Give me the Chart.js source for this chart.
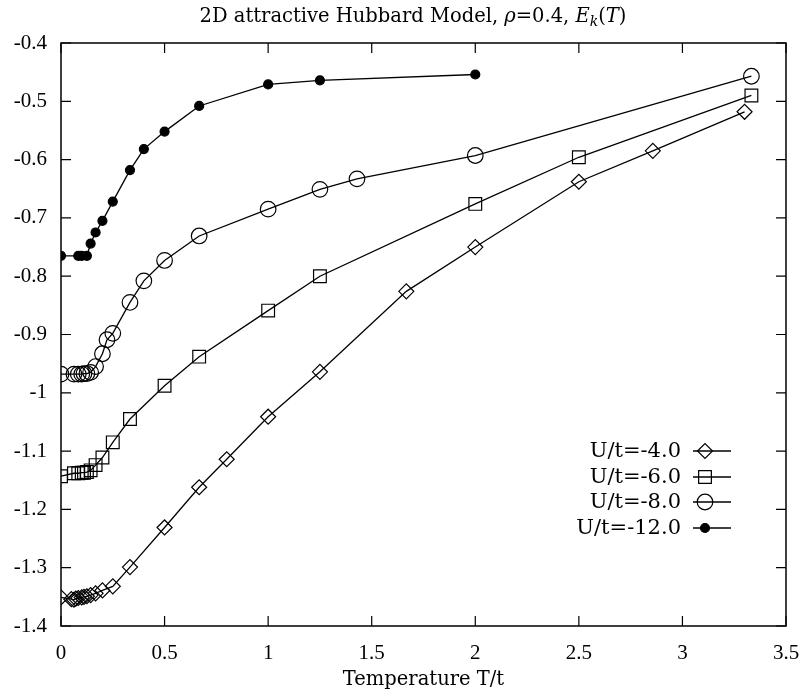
<!DOCTYPE html>
<html>
<head>
<meta charset="utf-8">
<script src="https://cdn.jsdelivr.net/npm/chart.js@4/dist/chart.umd.min.js"></script>
<style>
  body { margin: 0; background: #fff; }
  #wrap { width: 801px; height: 692px; }
</style>
</head>
<body>
<div id="wrap"><canvas id="hubbardChart" width="801" height="692"></canvas></div>
<script>
// temperatures T/t and kinetic energy E_k for each coupling
var tempU4 = [0, 0.05, 0.0625, 0.0714, 0.0833, 0.1, 0.111, 0.125, 0.143, 0.167, 0.2, 0.25, 0.333, 0.5, 0.667, 0.8, 1.0, 1.25, 1.667, 2.0, 2.5, 2.857, 3.3];
var ekU4 = [-1.351, -1.354, -1.355, -1.353, -1.352, -1.351, -1.350, -1.349, -1.347, -1.344, -1.339, -1.332, -1.299, -1.231, -1.162, -1.114, -1.041, -0.964, -0.826, -0.750, -0.638, -0.585, -0.518];

var tempU6 = [0, 0.0625, 0.0833, 0.1, 0.111, 0.125, 0.143, 0.167, 0.2, 0.25, 0.333, 0.5, 0.667, 1.0, 1.25, 2.0, 2.5, 3.333];
var ekU6 = [-1.143, -1.138, -1.138, -1.137, -1.137, -1.136, -1.133, -1.124, -1.111, -1.085, -1.045, -0.988, -0.938, -0.859, -0.800, -0.676, -0.596, -0.490];

var tempU8 = [0, 0.0625, 0.0833, 0.1, 0.111, 0.125, 0.143, 0.167, 0.2, 0.222, 0.25, 0.333, 0.4, 0.5, 0.667, 1.0, 1.25, 1.429, 2.0, 3.333];
var ekU8 = [-0.968, -0.968, -0.968, -0.968, -0.967, -0.967, -0.965, -0.955, -0.933, -0.909, -0.898, -0.845, -0.808, -0.773, -0.731, -0.685, -0.651, -0.633, -0.593, -0.457];

var tempU12 = [0, 0.0833, 0.1, 0.125, 0.143, 0.167, 0.2, 0.25, 0.333, 0.4, 0.5, 0.667, 1.0, 1.25, 2.0];
var ekU12 = [-0.765, -0.765, -0.765, -0.765, -0.744, -0.725, -0.705, -0.672, -0.618, -0.582, -0.552, -0.508, -0.471, -0.464, -0.454];

var seriesLabels = ['U/t=-4.0', 'U/t=-6.0', 'U/t=-8.0', 'U/t=-12.0'];
var xTicks = [0, 0.5, 1, 1.5, 2, 2.5, 3, 3.5];
var yTicks = [-1.4, -1.3, -1.2, -1.1, -1, -0.9, -0.8, -0.7, -0.6, -0.5, -0.4];

var toPoints = function (xs, ys) {
    var pts = [];
    for (var i in xs) {
        pts.push({ x: xs[i], y: ys[i] });
    }
    return pts;
};

var makeSet = function (label, xs, ys, style, radius, filled) {
    return {
        label: label,
        data: toPoints(xs, ys),
        showLine: true,
        borderColor: '#000',
        borderWidth: 1.3,
        pointStyle: style,
        pointRadius: radius,
        pointBorderWidth: 1.2,
        pointBorderColor: '#000',
        pointBackgroundColor: filled ? '#000' : 'rgba(0,0,0,0)',
        tension: 0
    };
};

var serif = 'DejaVu Serif';
var tickFont = 'Liberation Serif';

var framePlugin = {
    id: 'frame',
    afterDraw: function (chart) {
        var ctx = chart.ctx;
        var a = chart.chartArea;
        var xs = chart.scales.x, ys = chart.scales.y;
        ctx.save();
        ctx.strokeStyle = '#000';
        ctx.lineWidth = 1.5;
        ctx.strokeRect(a.left, a.top, a.right - a.left, a.bottom - a.top);
        // inward tick marks on all four sides
        ctx.lineWidth = 1.2;
        ctx.beginPath();
        xTicks.forEach(function (v) {
            var px = xs.getPixelForValue(v);
            ctx.moveTo(px, a.bottom); ctx.lineTo(px, a.bottom - 10);
            ctx.moveTo(px, a.top); ctx.lineTo(px, a.top + 10);
        });
        yTicks.forEach(function (v) {
            var py = ys.getPixelForValue(v);
            ctx.moveTo(a.left, py); ctx.lineTo(a.left + 10, py);
            ctx.moveTo(a.right, py); ctx.lineTo(a.right - 10, py);
        });
        ctx.stroke();

        // title with italic math parts
        var parts = [
            { t: '2D attractive Hubbard Model, ', f: '19.5px "' + serif + '"', dy: 0 },
            { t: 'ρ', f: 'italic 19.5px "' + serif + '"', dy: 0 },
            { t: '=0.4, ', f: '19.5px "' + serif + '"', dy: 0 },
            { t: 'E', f: 'italic 19.5px "' + serif + '"', dy: 0 },
            { t: 'k', f: 'italic 14px "' + serif + '"', dy: 4 },
            { t: '(', f: '19.5px "' + serif + '"', dy: 0 },
            { t: 'T', f: 'italic 19.5px "' + serif + '"', dy: 0 },
            { t: ')', f: '19.5px "' + serif + '"', dy: 0 }
        ];
        var total = 0;
        parts.forEach(function (p) { ctx.font = p.f; p.w = ctx.measureText(p.t).width; total += p.w; });
        var tx = 413 - total / 2;
        ctx.fillStyle = '#000';
        ctx.textBaseline = 'alphabetic';
        ctx.textAlign = 'left';
        parts.forEach(function (p) {
            ctx.font = p.f;
            ctx.fillText(p.t, tx, 22 + p.dy);
            tx += p.w;
        });

        // legend: text, then line sample with marker
        var rowY = [451, 477, 502, 528];
        ctx.font = '21px "' + serif + '"';
        ctx.textAlign = 'right';
        ctx.textBaseline = 'middle';
        chart.data.datasets.forEach(function (ds, i) {
            var y = rowY[i];
            ctx.fillStyle = '#000';
            ctx.fillText(ds.label, 681, y + 1);
            ctx.lineWidth = 1.3;
            ctx.beginPath();
            ctx.moveTo(693, y); ctx.lineTo(731, y);
            ctx.stroke();
            ctx.fillStyle = ds.pointBackgroundColor;
            ctx.lineWidth = 1.2;
            Chart.helpers.drawPoint(ctx, {
                pointStyle: ds.pointStyle,
                radius: ds.pointRadius,
                borderWidth: 1.2,
                rotation: 0
            }, 705, y);
        });
        ctx.restore();
    }
};

var hubbardCanvas = document.getElementById('hubbardChart');
var hubbardChart = new Chart(hubbardCanvas, {
    type: 'scatter',
    data: {
        datasets: [
            makeSet(seriesLabels[0], tempU4, ekU4, 'rectRot', 7.5, false),
            makeSet(seriesLabels[1], tempU6, ekU6, 'rect', 9, false),
            makeSet(seriesLabels[2], tempU8, ekU8, 'circle', 7.8, false),
            makeSet(seriesLabels[3], tempU12, ekU12, 'circle', 4.5, true)
        ]
    },
    options: {
        responsive: false,
        animation: false,
        layout: { padding: { top: 43, right: 15, left: 0, bottom: 0 } },
        plugins: {
            legend: { display: false },
            tooltip: { enabled: false }
        },
        scales: {
            x: {
                type: 'linear',
                min: 0,
                max: 3.5,
                afterFit: function (scale) {
                    scale.height = 66;
                    scale.paddingLeft = 0;
                    scale.paddingRight = 0;
                },
                afterBuildTicks: function (scale) {
                    scale.ticks = xTicks.map(function (v) { return { value: v }; });
                },
                grid: { display: false, drawTicks: false },
                border: { display: false },
                ticks: {
                    color: '#000',
                    padding: 15,
                    maxRotation: 0,
                    font: { family: tickFont, size: 21 },
                    callback: function (v) { return String(parseFloat(v.toFixed(1))); }
                },
                title: {
                    display: true,
                    text: 'Temperature T/t',
                    color: '#000',
                    font: { family: serif, size: 19.5 },
                    padding: { top: 0, bottom: 0 }
                }
            },
            y: {
                type: 'linear',
                min: -1.4,
                max: -0.4,
                afterFit: function (scale) {
                    scale.width = 61;
                    scale.paddingTop = 0;
                    scale.paddingBottom = 0;
                },
                afterBuildTicks: function (scale) {
                    scale.ticks = yTicks.map(function (v) { return { value: v }; });
                },
                grid: { display: false, drawTicks: false },
                border: { display: false },
                ticks: {
                    color: '#000',
                    padding: 14,
                    font: { family: tickFont, size: 21 },
                    callback: function (v) { return String(parseFloat(v.toFixed(1))); }
                }
            }
        }
    },
    plugins: [framePlugin]
});
</script>
</body>
</html>
